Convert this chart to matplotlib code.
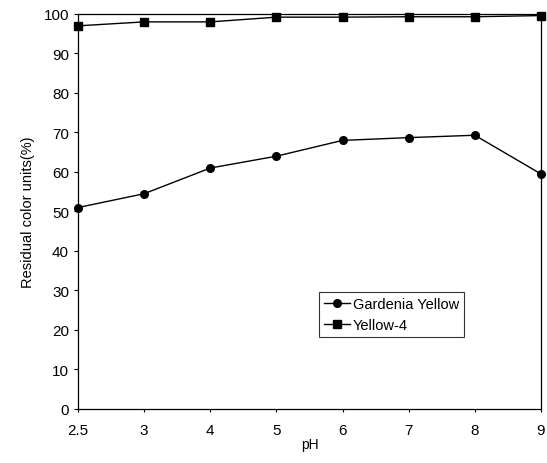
import matplotlib
matplotlib.use("Agg")
import matplotlib.pyplot as plt
import numpy as np

plt.rcParams["font.family"] = ["Liberation Sans", "DejaVu Sans"]

ph_labels = ["2.5", "3", "4", "5", "6", "7", "8", "9"]
gardenia_yellow = [51.0, 54.5, 61.0, 64.0, 68.0, 68.7, 69.3, 59.5]
yellow_4 = [97.0, 98.0, 98.0, 99.2, 99.2, 99.3, 99.3, 99.6]

fig = plt.figure(figsize=(5.47, 4.64), dpi=100)
ax = fig.add_axes([0.1426, 0.1164, 0.8464, 0.8513])

x = np.arange(len(ph_labels))
ax.plot(x, gardenia_yellow, color="black", lw=1.0, marker="o", ms=5.5,
        label="Gardenia Yellow", clip_on=False, zorder=3)
ax.plot(x, yellow_4, color="black", lw=1.0, marker="s", ms=6,
        label="Yellow-4", clip_on=False, zorder=3)

ax.set_xlim(0, len(ph_labels) - 1)
ax.set_ylim(0, 100)
ax.set_xticks(x)
ax.set_xticklabels(ph_labels)
ax.set_yticks(np.arange(0, 101, 10))
ax.tick_params(axis="both", labelsize=11, direction="out", length=3, width=0.8)
ax.tick_params(axis="x", length=2, pad=8)
for s in ax.spines.values():
    s.set_linewidth(0.9)
    s.set_color("black")

ax.set_xlabel("pH", fontsize=10, labelpad=0)
ax.set_ylabel("Residual color units(%)", fontsize=10.5, labelpad=6)

leg = ax.legend(loc="lower left", bbox_to_anchor=(0.52, 0.182), fontsize=10.5,
                frameon=True, fancybox=False, edgecolor="black",
                handlelength=1.8, handletextpad=0.2, borderpad=0.35,
                labelspacing=0.45, borderaxespad=0)
leg.get_frame().set_linewidth(0.8)

fig.savefig("out.png", dpi=100)
